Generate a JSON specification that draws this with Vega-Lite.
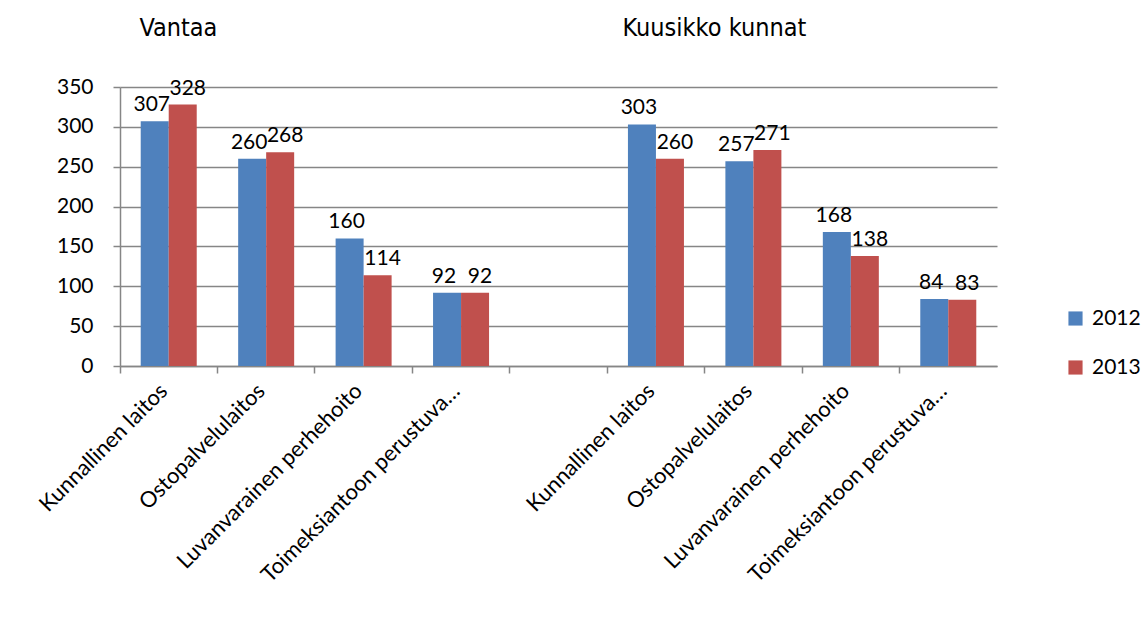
{
  "$schema": "https://vega.github.io/schema/vega-lite/v6.json",
  "width": 877,
  "height": 279,
  "autosize": {"type": "none"},
  "padding": {"left": 120, "top": 87, "right": 145, "bottom": 252},
  "background": "white",
  "config": {
    "view": {"stroke": null},
    "font": "Lato",
    "axisY": {
      "domainColor": "#868686",
      "domainWidth": 1.5,
      "tickColor": "#868686",
      "tickWidth": 1.5,
      "tickSize": 7,
      "gridColor": "#868686",
      "gridWidth": 1.5,
      "labelFont": "Lato",
      "labelFontSize": 21,
      "labelColor": "#000000",
      "labelPadding": 20
    },
    "axisX": {
      "domainColor": "#868686",
      "domainWidth": 1.5,
      "tickColor": "#868686",
      "tickWidth": 1.5,
      "labelFont": "Lato",
      "labelFontSize": 22,
      "labelColor": "#000000"
    }
  },
  "datasets": {
    "bars": [
      {"key": "V|Kunnallinen laitos", "year": "2012", "value": 307},
      {"key": "V|Kunnallinen laitos", "year": "2013", "value": 328},
      {"key": "V|Ostopalvelulaitos", "year": "2012", "value": 260},
      {"key": "V|Ostopalvelulaitos", "year": "2013", "value": 268},
      {"key": "V|Luvanvarainen perhehoito", "year": "2012", "value": 160},
      {"key": "V|Luvanvarainen perhehoito", "year": "2013", "value": 114},
      {"key": "V|Toimeksiantoon perustuva…", "year": "2012", "value": 92},
      {"key": "V|Toimeksiantoon perustuva…", "year": "2013", "value": 92},
      {"key": "K|Kunnallinen laitos", "year": "2012", "value": 303},
      {"key": "K|Kunnallinen laitos", "year": "2013", "value": 260},
      {"key": "K|Ostopalvelulaitos", "year": "2012", "value": 257},
      {"key": "K|Ostopalvelulaitos", "year": "2013", "value": 271},
      {"key": "K|Luvanvarainen perhehoito", "year": "2012", "value": 168},
      {"key": "K|Luvanvarainen perhehoito", "year": "2013", "value": 138},
      {"key": "K|Toimeksiantoon perustuva…", "year": "2012", "value": 84},
      {"key": "K|Toimeksiantoon perustuva…", "year": "2013", "value": 83}
    ],
    "titles": [
      {"key": "V|Kunnallinen laitos", "label": "Vantaa", "value": 424},
      {"key": "K|Ostopalvelulaitos", "label": "Kuusikko kunnat", "value": 424}
    ]
  },
  "layer": [
    {
      "data": {"name": "bars"},
      "mark": {"type": "bar"},
      "encoding": {
        "x": {
          "field": "key",
          "type": "nominal",
          "sort": null,
          "scale": {
            "domain": ["V|Kunnallinen laitos", "V|Ostopalvelulaitos", "V|Luvanvarainen perhehoito", "V|Toimeksiantoon perustuva…", "gap|", "K|Kunnallinen laitos", "K|Ostopalvelulaitos", "K|Luvanvarainen perhehoito", "K|Toimeksiantoon perustuva…"],
            "paddingInner": 0,
            "paddingOuter": 0
          },
          "axis": {"orient": "bottom", "bandPosition": 0, "labels": false, "ticks": true, "tickSize": 7, "domain": true, "grid": false, "title": null}
        },
        "xOffset": {"field": "year", "type": "nominal", "scale": {"paddingInner": 0, "paddingOuter": 0.74}},
        "y": {
          "field": "value",
          "type": "quantitative",
          "scale": {"domain": [0, 350], "nice": false},
          "axis": {"title": null, "values": [0, 50, 100, 150, 200, 250, 300, 350]}
        },
        "color": {
          "field": "year",
          "type": "nominal",
          "scale": {"domain": ["2012", "2013"], "range": ["#4F81BD", "#C0504D"]},
          "legend": {
            "orient": "none",
            "legendX": 945,
            "legendY": 221,
            "title": null,
            "symbolType": "square",
            "symbolSize": 200,
            "symbolStrokeWidth": 0,
            "labelFont": "Lato",
            "labelFontSize": 21,
            "labelColor": "#000000",
            "rowPadding": 27,
            "labelOffset": 6
          }
        }
      }
    },
    {
      "data": {"name": "bars"},
      "transform": [{"filter": "datum.year === '2012'"}],
      "mark": {"type": "text", "baseline": "bottom", "dy": -6, "dx": -3, "fontSize": 21, "font": "Lato", "color": "#000000"},
      "encoding": {
        "x": {
          "field": "key",
          "type": "nominal",
          "sort": null,
          "axis": {"orient": "bottom", "labels": true, "ticks": false, "domain": false, "grid": false, "labelAngle": -45, "labelPadding": 14, "labelOffset": -12, "labelExpr": "split(datum.value, '|')[1]", "title": null, "labelLimit": 400}
        },
        "xOffset": {"field": "year", "type": "nominal"},
        "y": {"field": "value", "type": "quantitative", "axis": {"title": null, "values": [0, 50, 100, 150, 200, 250, 300, 350]}},
        "text": {"field": "value", "type": "quantitative"}
      }
    },
    {
      "data": {"name": "bars"},
      "transform": [{"filter": "datum.year === '2013'"}],
      "mark": {"type": "text", "baseline": "bottom", "dy": -6, "dx": 5, "fontSize": 21, "font": "Lato", "color": "#000000"},
      "encoding": {
        "x": {"field": "key", "type": "nominal", "sort": null, "axis": null},
        "xOffset": {"field": "year", "type": "nominal"},
        "y": {"field": "value", "type": "quantitative", "axis": {"title": null, "values": [0, 50, 100, 150, 200, 250, 300, 350]}},
        "text": {"field": "value", "type": "quantitative"}
      }
    },
    {
      "data": {"name": "titles"},
      "transform": [{"filter": "datum.label === 'Vantaa'"}],
      "mark": {"type": "text", "fontSize": 25, "font": "DejaVu Sans Condensed", "color": "#000000", "baseline": "middle"},
      "encoding": {
        "x": {"field": "key", "type": "nominal", "sort": null, "bandPosition": 0.6, "axis": null},
        "y": {"field": "value", "type": "quantitative", "axis": {"title": null, "values": [0, 50, 100, 150, 200, 250, 300, 350]}},
        "text": {"field": "label"}
      }
    },
    {
      "data": {"name": "titles"},
      "transform": [{"filter": "datum.label === 'Kuusikko kunnat'"}],
      "mark": {"type": "text", "fontSize": 25, "font": "DejaVu Sans Condensed", "color": "#000000", "baseline": "middle"},
      "encoding": {
        "x": {"field": "key", "type": "nominal", "sort": null, "bandPosition": 0.1, "axis": null},
        "y": {"field": "value", "type": "quantitative", "axis": {"title": null, "values": [0, 50, 100, 150, 200, 250, 300, 350]}},
        "text": {"field": "label"}
      }
    }
  ],
  "resolve": {"axis": {"x": "independent"}}
}
